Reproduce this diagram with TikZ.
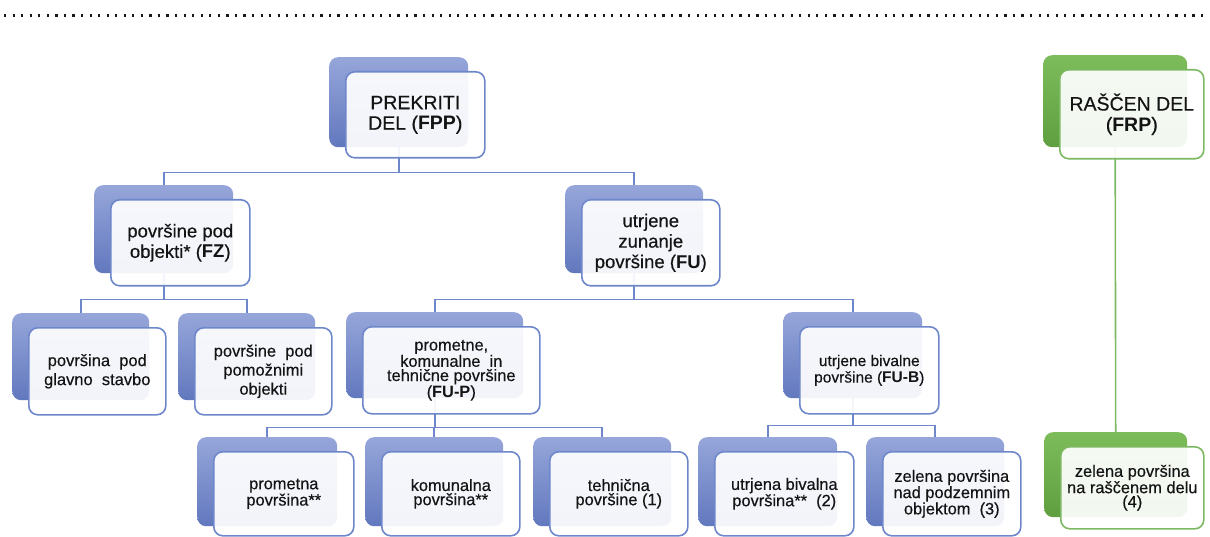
\documentclass[tikz,border=0pt]{standalone}
\usepackage{fontspec}
\setmainfont{Liberation Sans}[UprightFeatures={FakeBold=0.4}]
\usetikzlibrary{backgrounds}
\definecolor{bbtop}{HTML}{96A6DA}
\definecolor{bbbot}{HTML}{6278BE}
\definecolor{bline}{HTML}{6E87CA}
\definecolor{gbtop}{HTML}{7CBC5A}
\definecolor{gbbot}{HTML}{5F9F40}
\definecolor{gline}{HTML}{7DB862}
\definecolor{txt}{HTML}{141414}
\tikzset{
  backbox/.style={rounded corners=9pt, anchor=north west, inner sep=0pt},
  bback/.style={backbox, top color=bbtop, bottom color=bbbot},
  gback/.style={backbox, top color=gbtop, bottom color=gbbot},
  frontbox/.style={rounded corners=9pt, anchor=north west, inner sep=0pt,
    fill=white, fill opacity=0.92, text opacity=1, line width=1.6pt,
    align=center, text=txt},
  bfront/.style={frontbox, draw=bline},
  gfront/.style={frontbox, draw=gline},
  conn/.style={line width=1.6pt, draw=bline},
  gconn/.style={line width=1.6pt, draw=gline},
  fa/.style={font=\fontsize{19.5}{20.5}\selectfont},
  fb/.style={font=\fontsize{18.5}{20.5}\selectfont},
  fc/.style={font=\fontsize{16.5}{19}\selectfont},
  fd/.style={font=\fontsize{16.4}{14.2}\selectfont},
  fe/.style={font=\fontsize{15.5}{16.5}\selectfont},
}
% name, kind, x, y, w, h (back), h (front), font style, text
\newcommand\dbox[9]{%
  \node[#2back, minimum width=#5pt, minimum height=#6pt] (#1b) at (#3,#4) {};
  \node[#2front, #8, minimum width=#5pt, minimum height=#7pt] (#1) at (#3+16,#4+14) {#9};
}
\begin{document}
\begin{tikzpicture}[x=1pt,y=-1pt]
\useasboundingbox (0,0) rectangle (1210,537);
\draw[line width=3pt, dash pattern=on 2.2pt off 6.35pt, black!90] (4,16) -- (1206,16);

\dbox{fpp}{b}{329}{57}{139}{90}{86}{fa}{PREKRITI\\DEL (\textbf{FPP})}
\dbox{frp}{g}{1043}{55}{144}{92}{89}{fa}{RAŠČEN DEL\\(\textbf{FRP})}
\dbox{fz}{b}{94}{185}{139}{88}{86}{fb}{površine pod\\objekti* (\textbf{FZ})}
\dbox{fu}{b}{565}{185}{138}{88}{86}{fb}{utrjene\\zunanje\\površine (\textbf{FU})}
\dbox{ga}{b}{12}{313}{137}{87}{87}{fc}{površina\ \ pod\\glavno\ \ stavbo}
\dbox{gb}{b}{178}{313}{137}{87}{87}{fc}{površine\ \ pod\\pomožnimi\\objekti}
\dbox{fup}{b}{346}{312}{177}{86}{87}{fd}{prometne,\\komunalne\ \ in\\tehnične površine\\(\textbf{FU-P})}
\dbox{fbv}{b}{783}{312}{139}{86}{87}{fe}{utrjene bivalne\\površine (\textbf{FU-B})}
\dbox{pa}{b}{197}{437}{140}{89}{84}{fd}{prometna\\površina**}
\dbox{pb}{b}{365}{437}{138}{89}{84}{fd}{komunalna\\površina**}
\dbox{pc}{b}{533}{437}{138}{89}{84}{fd}{tehnična\\površine (1)}
\dbox{pd}{b}{698}{437}{139}{89}{84}{fd}{utrjena bivalna\\površina**\ \ (2)}
\dbox{pe}{b}{866}{437}{138}{89}{84}{fd}{zelena površina\\nad podzemnim\\objektom\ \ (3)}
\dbox{gr}{g}{1044}{432}{143}{85}{82}{fd}{zelena površina\\na raščenem delu\\(4)}

\begin{pgfonlayer}{background}
\draw[conn] (fppb.south) -- ++(0,25) -| (fzb.north);
\draw[conn] (fppb.south) -- ++(0,25) -| (fub.north);
\draw[conn] (fzb.south) -- ++(0,26) -| (gab.north);
\draw[conn] (fzb.south) -- ++(0,26) -| (gbb.north);
\draw[conn] (fub.south) -- ++(0,26) -| (fupb.north);
\draw[conn] (fub.south) -- ++(0,26) -| (fbvb.north);
\draw[conn] (fupb.south) -- ++(0,29) -| (pab.north);
\draw[conn] (fupb.south) -- ++(0,29) -| (pbb.north);
\draw[conn] (fupb.south) -- ++(0,29) -| (pcb.north);
\draw[conn] (fbvb.south) -- ++(0,27) -| (pdb.north);
\draw[conn] (fbvb.south) -- ++(0,27) -| (peb.north);
\draw[gconn] (frpb.south) -- (grb.north);
\end{pgfonlayer}
\end{tikzpicture}
\end{document}
